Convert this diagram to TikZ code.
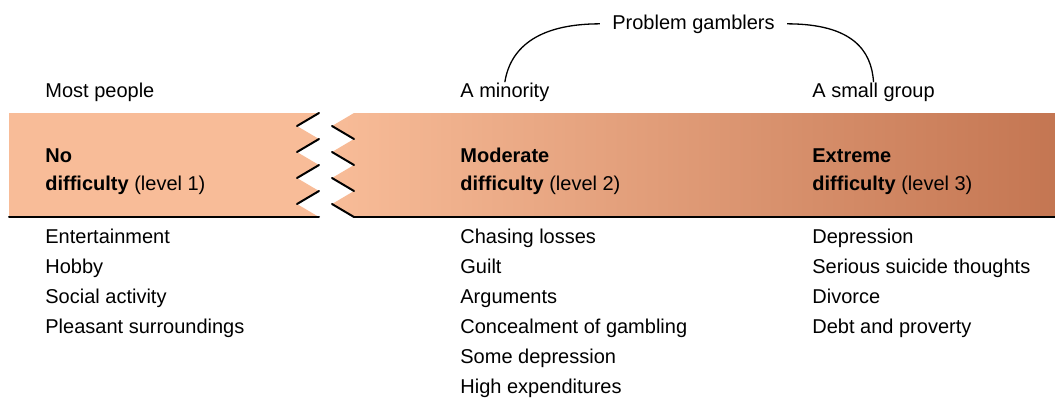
\documentclass[tikz,border=0pt]{standalone}
\usepackage{fontspec}
\setmainfont{Liberation Sans}
\usetikzlibrary{positioning}
\definecolor{bandA}{RGB}{248,188,152}
\definecolor{bandB}{RGB}{228,140,100}
\definecolor{bandC}{RGB}{196,118,82}
\begin{document}
\begin{tikzpicture}[
  x=0.5pt, y=-0.5pt,
  txt/.style={anchor=base west, inner sep=0pt, font=\fontsize{10}{15}\selectfont},
  head/.style={txt, align=left, font=\fontsize{10}{14}\selectfont},
  list/.style={txt, align=left},
  jag/.style={line width=1pt, line cap=round},
  brace/.style={line width=0.65pt},
]
\useasboundingbox (0,0) rectangle (1055,398);
% left piece of the band
\fill[bandA] (9,113) -- (319,113) -- (297,126) -- (319,139) -- (297,152) -- (319,165)
  -- (297,178) -- (319,191) -- (297,204) -- (319,217) -- (9,217) -- cycle;
% right piece, darker to the right
\shade[left color=bandA, middle color=bandB, right color=bandC]
  (354,113) -- (1055,113) -- (1055,217) -- (354,217) -- (332,204) -- (354,191)
  -- (332,178) -- (354,165) -- (332,152) -- (354,139) -- (332,126) -- cycle;
\draw[jag] (9,217) -- (319,217);
\draw[jag] (354,217) -- (1055,217);
\foreach \k in {0,26,52,78} {
  \draw[jag] (319,113+\k) -- (297,126+\k);
  \draw[jag] (332,126+\k) -- (354,139+\k);
}
% who
\node[txt] (most) at (45,97) {Most people};
\node[txt] (minority) at (460,97) {A minority};
\node[txt] (smallgrp) at (812,97) {A small group};
\node[txt, anchor=base, inner xsep=6pt] (pg) at (693.5,29) {Problem gamblers};
\draw[brace] (pg.west) .. controls +(-65,0) and +(5,-32) .. (minority.north);
\draw[brace] (pg.east) .. controls +(65,0) and +(-2,-32) .. (smallgrp.north);
% levels (base = last line)
\node[head] (lvl1) at (45,190) {\textbf{No}\\\textbf{difficulty} (level 1)};
\node[head] (lvl2) at (460,190) {\textbf{Moderate}\\\textbf{difficulty} (level 2)};
\node[head] (lvl3) at (812,190) {\textbf{Extreme}\\\textbf{difficulty} (level 3)};
% signs
\node[list] (signs1) at (45,333) {Entertainment\\Hobby\\Social activity\\Pleasant surroundings};
\node[list] (signs2) at (460,393) {Chasing losses\\Guilt\\Arguments\\Concealment of gambling\\Some depression\\High expenditures};
\node[list] (signs3) at (812,333) {Depression\\Serious suicide thoughts\\Divorce\\Debt and proverty};
\end{tikzpicture}
\end{document}
